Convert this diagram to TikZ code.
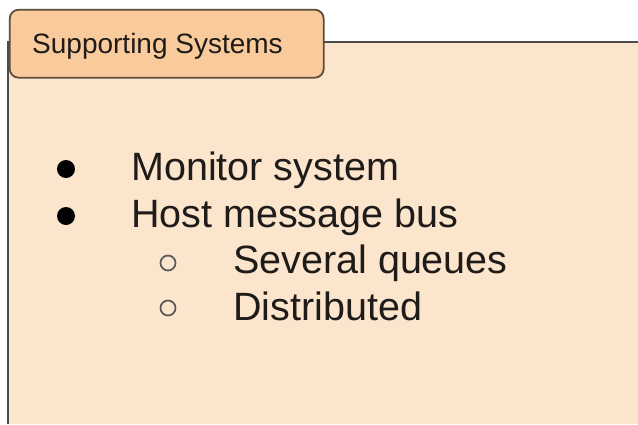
\documentclass[tikz,border=0pt]{standalone}
\usepackage{fontspec}
\setmainfont{Liberation Sans}
\usetikzlibrary{positioning}
\definecolor{panelfill}{HTML}{FCE5CD}
\definecolor{tabfill}{HTML}{F9CB9C}
\definecolor{tabline}{HTML}{5E4D3C}
\definecolor{inktext}{HTML}{1E1B18}
\begin{document}
\begin{tikzpicture}[x=1pt,y=-1pt,every node/.style={text=inktext},panel/.style={fill=panelfill},frame/.style={draw=black!70,line width=1.8pt},tab/.style={draw=tabline,fill=tabfill,line width=1.8pt,rounded corners=9pt,inner sep=0pt},title/.style={font=\fontsize{28}{32}\selectfont,anchor=base west,inner sep=0pt},item/.style={font=\fontsize{39.5}{47}\selectfont,anchor=base west,inner sep=0pt},dot/.style={circle,fill=black,minimum size=18pt,inner sep=0pt},ring/.style={circle,draw=black!65,line width=1.7pt,minimum size=15pt,inner sep=0pt}]
\useasboundingbox[fill=white] (0,0) rectangle (638,424);
\fill[panel] (8,42) rectangle (638,424);\draw[frame] (8,424)--(8,42)--(638,42);
\node[tab,minimum width=314pt,minimum height=68pt,anchor=north west] (tab) at (8.8,8.8) {};
\node[title] (title) at (32,53) {Supporting Systems};
\node[item] (monitor) at (131,180) {Monitor system};\node[item] (host) at (131,227) {Host message bus};
\node[item] (queues) at (233,273) {Several queues};\node[item] (distrib) at (233,320) {Distributed};
\node[dot] (b1) at (66,169) {};\node[dot] (b2) at (66,216) {};
\node[ring] (c1) at (168,263) {};\node[ring] (c2) at (168,308) {};
\end{tikzpicture}
\end{document}
